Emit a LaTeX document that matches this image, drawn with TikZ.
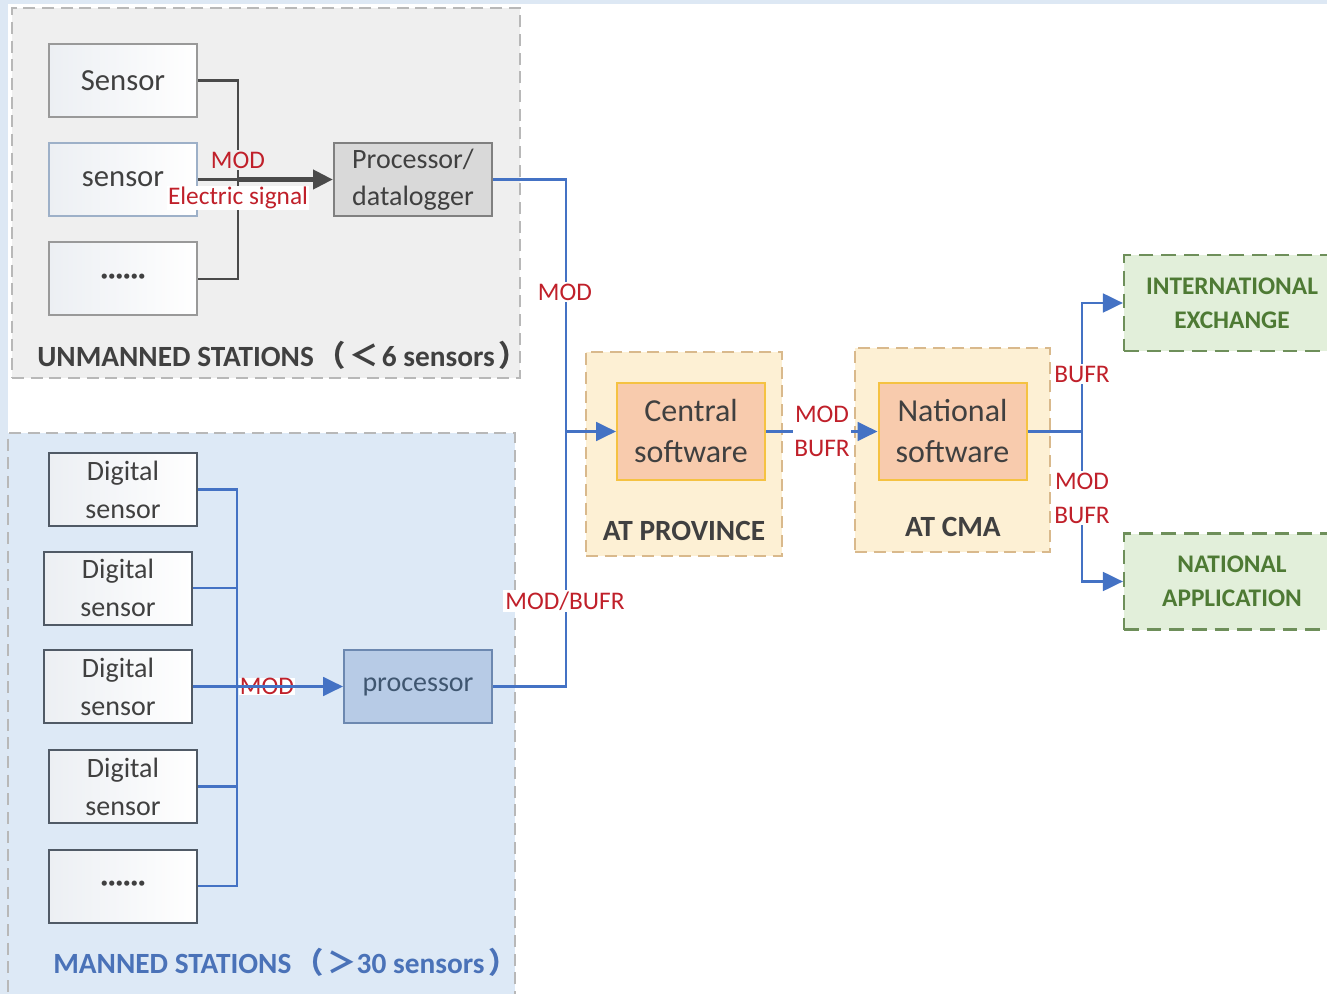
\documentclass[tikz,border=0pt]{standalone}
\usepackage{fontspec}
\setmainfont{Carlito}
\newfontfamily\cjk{Noto Sans CJK SC}
\usetikzlibrary{arrows.meta}
\definecolor{bgblue}{HTML}{DDE8F4}
\definecolor{lblred}{HTML}{C0202A}
\definecolor{lineblue}{HTML}{4472C4}
\definecolor{darkline}{HTML}{4A4A4A}
\definecolor{unfill}{HTML}{EFEFEF}
\definecolor{manfill}{HTML}{DDE9F6}
\definecolor{panelborder}{HTML}{B8B8B8}
\definecolor{provfill}{HTML}{FDF0D4}
\definecolor{provborder}{HTML}{D9B98C}
\definecolor{softfill}{HTML}{F8CBAD}
\definecolor{softborder}{HTML}{F5C242}
\definecolor{greenfill}{HTML}{E2EFDA}
\definecolor{greenborder}{HTML}{6E8F5A}
\definecolor{greentext}{HTML}{4E7A34}
\definecolor{txtgray}{HTML}{404040}
\definecolor{procfill}{HTML}{D9D9D9}
\definecolor{proc2fill}{HTML}{B7CBE6}
\definecolor{proc2border}{HTML}{6C88B0}
\definecolor{mantitle}{HTML}{4A72B8}
\definecolor{boxleft}{HTML}{ECEFF3}
\definecolor{s2border}{HTML}{9DB0C8}
\definecolor{digborder}{HTML}{505A66}
\definecolor{proc2text}{HTML}{3F5670}
\tikzset{
  panel/.style={draw=panelborder, dashed, dash pattern=on 9pt off 5pt, line width=1.3pt, inner sep=0pt},
  sbox/.style={draw=#1, line width=1.5pt, left color=boxleft, right color=white, inner sep=0pt,
    minimum width=111pt, minimum height=54.75pt, text=txtgray, align=center},
  sbox/.default={gray!80},
  lbl/.style={text=lblred, font=\fontsize{19}{23}\selectfont, inner sep=1.5pt, align=center},
  wlbl/.style={lbl, fill=white},
  gline/.style={draw=darkline, line width=2.2pt},
  bline/.style={draw=lineblue, line width=2.2pt},
  barrow/.style={bline, -{Triangle[length=15pt,width=14pt]}},
  garrow/.style={draw=darkline, line width=4pt, -{Triangle[length=15pt,width=14pt]}},
  softbox/.style={draw=softborder, fill=softfill, line width=1.5pt, minimum width=111pt, minimum height=72.75pt,
    inner sep=0pt, align=center, text=txtgray, font=\fontsize{24}{30.75}\selectfont},
  greenbox/.style={draw=greenborder, fill=greenfill, dashed, dash pattern=on 11pt off 6pt, line width=1.6pt,
    minimum width=162pt, minimum height=72pt, inner sep=0pt, align=center, text=greentext,
    font=\bfseries\fontsize{19}{25.5}\selectfont},
  ptitle/.style={font=\bfseries\fontsize{22}{25}\selectfont, inner sep=0pt},
  digfont/.style={font=\fontsize{21}{28.5}\selectfont}
}
\begin{document}
\begin{tikzpicture}[x=0.75pt,y=-0.75pt]
\fill[bgblue] (0,0) rectangle (1327,994);
\fill[white] (8,4) rectangle (1327,994);
\useasboundingbox (0,0) rectangle (1327,994);
\clip (0,0) rectangle (1327,994);

% panels
\node[panel, fill=unfill, minimum width=381pt, minimum height=277.5pt] (unman) at (266,193) {};
\node[panel, fill=manfill, minimum width=380.25pt, minimum height=425.25pt] (man) at (261.5,716.5) {};
\node[panel, draw=provborder, fill=provfill, minimum width=147pt, minimum height=153pt] (prov) at (684,454) {};
\node[panel, draw=provborder, fill=provfill, minimum width=146.25pt, minimum height=153pt] (cma) at (952.5,450) {};

% unmanned stations
\node[sbox, font=\fontsize{23}{27}\selectfont] (s1) at (123,80.5) {Sensor};
\node[sbox=s2border, font=\fontsize{23}{27}\selectfont] (s2) at (123,179.5) {sensor};
\node[sbox, font=\fontsize{21}{25}\selectfont] (s3) at (123,279) {\textbf{······}};
\node[draw=gray, fill=procfill, line width=1.5pt, minimum width=118.5pt, minimum height=54.75pt, inner sep=0pt,
  align=center, text=txtgray, font=\fontsize{21}{27.75}\selectfont] (p1) at (413,179.5) {Processor/\\datalogger};
\coordinate (jU) at (238,179.5);
\draw[gline] (s1.east) -| (jU);
\draw[gline] (s3.east) -| (jU);
\draw[gline] (s2.east) -- (jU);
\node[lbl, fill=unfill, inner sep=1pt] (lmod1) at (238,160) {MOD};
\draw[garrow] (jU) -- (p1.west);
\node[wlbl, inner sep=0.5pt] (lelec) at (238,198) {Electric signal};
\node[ptitle, text=txtgray, anchor=west] (tun) at (37,355) {UNMANNED STATIONS\hspace{2pt}{\cjk\bfseries（}\hspace{3pt}{\cjk ＜}\hspace{2pt}6 sensors\hspace{3pt}{\cjk\bfseries ）}};

% manned stations
\node[sbox=digborder, digfont] (da) at (123,489.5) {Digital\\sensor};
\node[sbox=digborder, digfont] (db) at (118,588) {Digital\\sensor};
\node[sbox=digborder, digfont] (dc) at (118,686.5) {Digital\\sensor};
\node[sbox=digborder, digfont] (dd) at (123,786.5) {Digital\\sensor};
\node[sbox=digborder, font=\fontsize{21}{25}\selectfont] (de) at (123,886) {\textbf{······}};
\node[draw=proc2border, fill=proc2fill, line width=1.5pt, minimum width=111pt, minimum height=54.75pt, inner sep=0pt,
  text=proc2text, font=\fontsize{21}{25}\selectfont] (p2) at (418,686.5) {processor};
\coordinate (jM) at (237,686.5);
\draw[bline] (da.east) -| (jM);
\draw[bline] (de.east) -| (jM);
\draw[bline] (db.east) -- (db.east -| jM);
\draw[bline] (dd.east) -- (dd.east -| jM);
\draw[bline] (dc.east) -- (jM);
\node[wlbl, inner sep=0.5pt] (lmod2) at (267,686.5) {MOD};
\draw[barrow] (jM) -- (p2.west);
\node[ptitle, text=mantitle, anchor=west] (tman) at (53,962) {MANNED STATIONS\hspace{2pt}{\cjk\bfseries（}\hspace{3pt}{\cjk ＞}30 sensors\hspace{3pt}{\cjk\bfseries ）}};

% to province
\coordinate (jC) at (566,431.5);
\draw[bline] (p1.east) -| (jC);
\draw[bline] (p2.east) -| (jC);
\node[wlbl] (lmod3) at (565,292) {MOD};
\node[wlbl] (lmodbufr) at (565,601) {MOD/BUFR};

\node[softbox] (cen) at (691,431.5) {Central\\software};
\node[softbox] (nat) at (952.5,431.5) {National\\software};
\draw[barrow] (jC) -- (cen.west);
\node[ptitle, text=txtgray] (tprov) at (684,531) {AT PROVINCE};
\node[ptitle, text=txtgray] (tcma) at (953,527) {AT CMA};

\draw[barrow] (cen.east) -- (nat.west);
\node[wlbl, font=\fontsize{19}{25.5}\selectfont, inner sep=1pt] (lmb1) at (822,431) {MOD\\BUFR};

% outputs
\node[greenbox] (intl) at (1232,303) {INTERNATIONAL\\EXCHANGE};
\node[greenbox] (napp) at (1232,581.5) {NATIONAL\\APPLICATION};
\coordinate (jR) at (1082,431.5);
\draw[bline] (nat.east) -- (jR);
\draw[barrow] (jR) |- (intl.west);
\draw[barrow] (jR) |- (napp.west);
\node[wlbl, inner sep=1pt] (lbufr) at (1082,374) {BUFR};
\node[wlbl, font=\fontsize{19}{25.5}\selectfont, inner sep=1pt] (lmb2) at (1082,498) {MOD\\BUFR};
\end{tikzpicture}
\end{document}
